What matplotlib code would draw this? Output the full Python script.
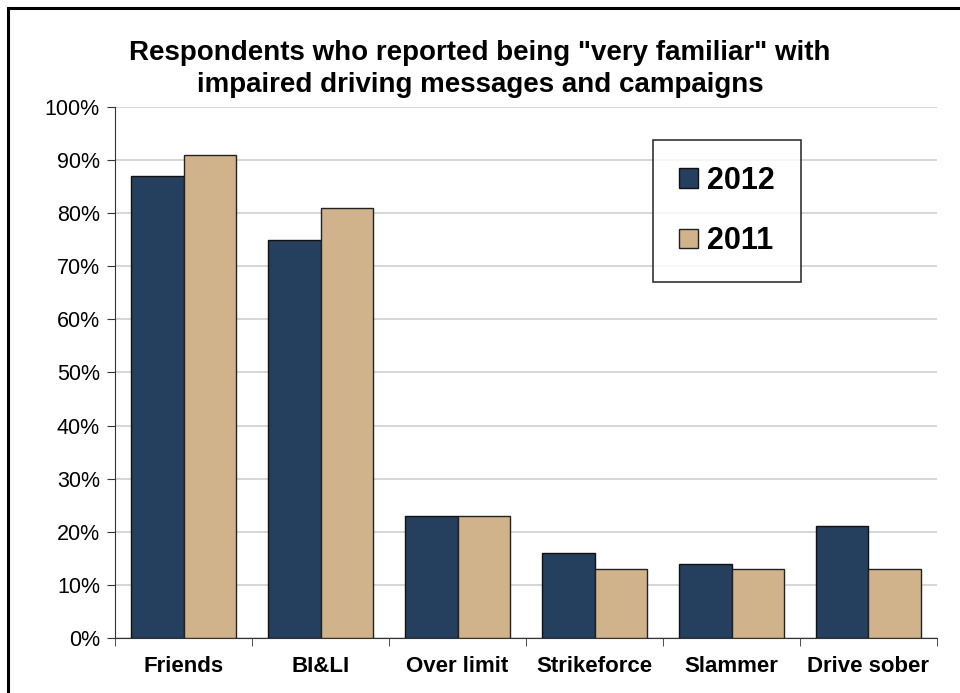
import matplotlib
matplotlib.use("Agg")
import matplotlib.pyplot as plt
import numpy as np
from matplotlib.patches import Rectangle

# Dados ###############################################
categorias = ["Friends", "BI&LI", "Over limit", "Strikeforce", "Slammer", "Drive sober"]
valores_2012 = [87, 75, 23, 16, 14, 21]
valores_2011 = [91, 81, 23, 13, 13, 13]
ticks_y = [0, 10, 20, 30, 40, 50, 60, 70, 80, 90, 100]

cor_2012 = "#253f5f"
cor_2011 = "#d1b38b"

plt.rcParams['font.family'] = ['Liberation Sans', 'DejaVu Sans']

fig = plt.figure(figsize=(9.6, 6.93), dpi=100)
ax = fig.add_axes([0.12, 0.0794, 0.856, 0.7662])

# moldura da figura (só topo e esquerda aparecem)
fig.patches.append(Rectangle((8 / 960, -0.1), 1.2, 1 - 8 / 693 + 0.1, transform=fig.transFigure,
                             fill=False, edgecolor="black", linewidth=2.2))

x = np.arange(len(categorias))
largura = 0.385
ax.bar(x - largura / 2, valores_2012, largura, color=cor_2012, edgecolor="#111111",
       linewidth=1.0, label="2012", zorder=3)
ax.bar(x + largura / 2, valores_2011, largura, color=cor_2011, edgecolor="#222222",
       linewidth=1.0, label="2011", zorder=3)

ax.set_xlim(-0.5, len(categorias) - 0.5)
ax.set_ylim(0, 100)
ax.set_yticks(ticks_y)
ax.set_yticklabels([f"{t}%" for t in ticks_y], fontsize=15.5)
ax.yaxis.grid(True, color="#d0d0d0", linewidth=1.2, zorder=0)
ax.set_axisbelow(True)

ax.set_xticks(x)
ax.set_xticklabels(categorias, fontsize=16, fontweight="bold")
ax.tick_params(axis="x", length=0, pad=13)
ax.set_xticks(np.arange(-0.5, len(categorias)), minor=True)
ax.tick_params(axis="x", which="minor", length=6, color="#333333")
ax.tick_params(axis="y", length=6, color="#333333", pad=5)

for lado in ["top", "right"]:
    ax.spines[lado].set_visible(False)
ax.spines["left"].set_color("#333333")
ax.spines["bottom"].set_color("#333333")

fig.text(0.5, 0.9, "Respondents who reported being \"very familiar\" with\nimpaired driving messages and campaigns",
         ha="center", va="center", fontsize=20, fontweight="bold", linespacing=1.3)

leg = ax.legend(loc="upper left", bbox_to_anchor=(0.655, 0.938),
                prop={"weight": "bold", "size": 22}, frameon=True, fancybox=False,
                handlelength=0.6, handleheight=0.6, handletextpad=0.3,
                labelspacing=1.0, borderpad=0.85, borderaxespad=0)
leg.get_frame().set_edgecolor("black")
leg.get_frame().set_linewidth(1.2)

fig.savefig("out.png", dpi=100)
